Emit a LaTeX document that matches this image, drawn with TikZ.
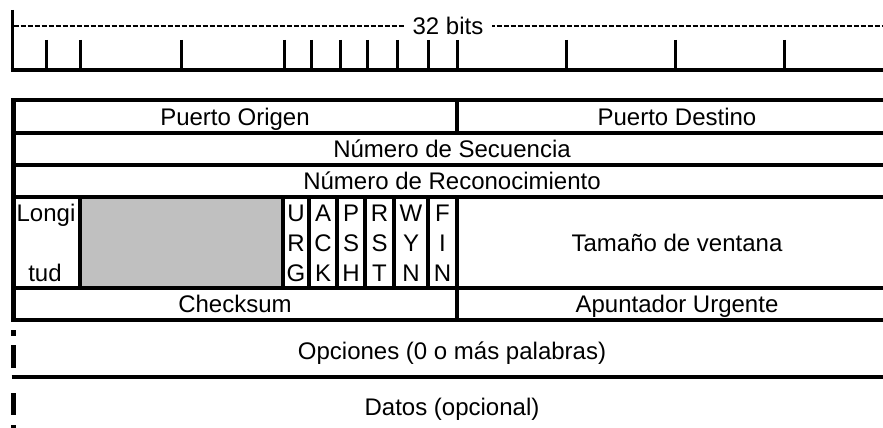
\documentclass[tikz,border=0pt]{standalone}
\usepackage{fontspec}
\setmainfont{Liberation Sans}
\definecolor{fieldgray}{RGB}{192,192,192}
\newcommand\fsz{\fontsize{24}{30}\selectfont}
\begin{document}
\begin{tikzpicture}[x=1pt,y=-1pt,
  tline/.style={line width=4.5pt},
  tick/.style={line width=3pt},
  lbl/.style={font=\fsz, anchor=base, inner sep=0pt},
  flag/.style={font=\fsz, align=center, inner sep=0pt, anchor=base}]
\useasboundingbox (0,0) rectangle (883,428);
\clip (0,0) rectangle (883,428);
% ---- ruler ----
\draw[tick] (12,10) -- (12,71.5);
\draw[tline] (10.5,70) -- (900,70);
\foreach \x in {46,80,181,284,311,340,367,397,428,457,566,675,784}
  \draw[tick] (\x,40) -- (\x,70);
\draw[line width=1.5pt, dash pattern=on 5pt off 2pt] (13.5,26) -- (900,26);
\node[font=\fsz, fill=white, inner xsep=9pt, inner ysep=2pt] (bits) at (448,26) {32 bits};
% ---- table ----
\fill[fieldgray] (80,197) rectangle (283,288);
\foreach \y in {100,133,165,197,288,320,377}
  \draw[tline] (11.5,\y) -- (900,\y);
\draw[tline] (13.5,98) -- (13.5,322);
\draw[tline] (457,100) -- (457,133);
\draw[tline] (457,288) -- (457,320);
\foreach \x in {80,283,309,337,365,394,428,457}
  \draw[tline] (\x,197) -- (\x,288);
% dashed left edge
\draw[tline] (13.5,330) -- (13.5,336);
\draw[tline] (13.5,345) -- (13.5,368);
\draw[tline] (13.5,393) -- (13.5,415);
\draw[tline] (13.5,425) -- (13.5,430);
% ---- labels ----
\node[lbl] (po) at (235,125) {Puerto Origen};
\node[lbl] (pd) at (677,125) {Puerto Destino};
\node[lbl] (ns) at (452,157.5) {Número de Secuencia};
\node[lbl] (nr) at (452,189.5) {Número de Reconocimiento};
\node[lbl] (lo1) at (46,221) {Longi};
\node[lbl] (lo2) at (45,281) {tud};
\node[flag] (urg) at (296,281) {U\\R\\G};
\node[flag] (ack) at (323,281) {A\\C\\K};
\node[flag] (psh) at (351,281) {P\\S\\H};
\node[flag] (rst) at (379.5,281) {R\\S\\T};
\node[flag] (syn) at (411,281) {W\\Y\\N};
\node[flag] (fin) at (442.5,281) {F\\I\\N};
\node[lbl] (win) at (677,251) {Tamaño de ventana};
\node[lbl] (cks) at (235,312.5) {Checksum};
\node[lbl] (urp) at (677,312.5) {Apuntador Urgente};
\node[lbl] (opc) at (452,359) {Opciones (0 o más palabras)};
\node[lbl] (dat) at (452,415) {Datos (opcional)};
\end{tikzpicture}
\end{document}
